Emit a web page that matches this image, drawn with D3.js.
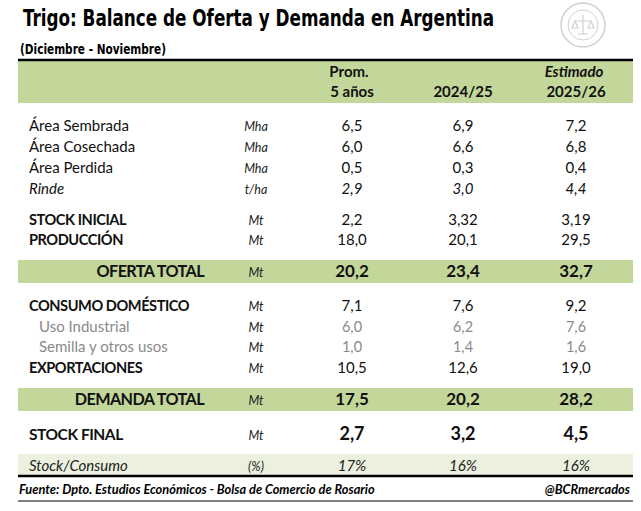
<!DOCTYPE html>
<html>
<head>
<meta charset="utf-8">
<script src="https://cdn.jsdelivr.net/npm/d3@7"></script>
<style>
  body { margin: 0; background: #fff; }
  svg { display: block; }
  .cal { font-family: Lato, "Open Sans", sans-serif; }
  .narrow { font-family: "Liberation Sans Narrow", "DejaVu Sans Condensed", sans-serif; font-stretch: condensed; }
</style>
</head>
<body>
<div id="tabla"></div>
<script>
// datos de la tabla
const rowLabels = [
  "Área Sembrada", "Área Cosechada", "Área Perdida", "Rinde",
  "STOCK INICIAL", "PRODUCCIÓN", "OFERTA TOTAL",
  "CONSUMO DOMÉSTICO", "Uso Industrial", "Semilla y otros usos", "EXPORTACIONES",
  "DEMANDA TOTAL", "STOCK FINAL", "Stock/Consumo"
];
const units = ["Mha", "Mha", "Mha", "t/ha", "Mt", "Mt", "Mt", "Mt", "Mt", "Mt", "Mt", "Mt", "Mt", "(%)"];
const prom5 = [6.5, 6.0, 0.5, 2.9, 2.2, 18.0, 20.2, 7.1, 6.0, 1.0, 10.5, 17.5, 2.7, 17];
const camp2425 = [6.9, 6.6, 0.3, 3.0, 3.32, 20.1, 23.4, 7.6, 6.2, 1.4, 12.6, 20.2, 3.2, 16];
const camp2526 = [7.2, 6.8, 0.4, 4.4, 3.19, 29.5, 32.7, 9.2, 7.6, 1.6, 19.0, 28.2, 4.5, 16];
const columnKeys = ["prom", "c2425", "c2526"];
const headerTop = ["Prom.", "", "Estimado"];
const headerBottom = ["5 años", "2024/25", "2025/26"];

// tipo de fila (define el estilo)
const rowKinds = ["plain", "plain", "plain", "italic", "bold", "bold", "total",
  "bold", "sub", "sub", "bold", "total", "final", "ratio"];

// posiciones verticales (línea base) de cada fila
const rowBase = [131, 152, 173, 194, 225, 245, 277, 311, 332, 352, 373, 405, 440, 471];

const width = 641, height = 511;
const left = 18, right = 633;
const green = "#c4d79b", lightGreen = "#ebf1de";

const svg = d3.select("#tabla").append("svg")
  .attr("width", width).attr("height", height);

const y = d3.scaleOrdinal().domain(rowLabels).range(rowBase);
const x = d3.scaleOrdinal().domain(["unit"].concat(columnKeys)).range([256, 352, 463, 576]);

// título
svg.append("text").attr("class", "narrow")
  .attr("x", 23).attr("y", 26)
  .attr("font-size", 23).attr("font-weight", "bold")
  .attr("textLength", 471).attr("lengthAdjust", "spacingAndGlyphs")
  .text("Trigo: Balance de Oferta y Demanda en Argentina");
svg.append("text").attr("class", "narrow")
  .attr("x", 20).attr("y", 54)
  .attr("font-size", 14.5).attr("font-weight", "bold")
  .attr("textLength", 146).attr("lengthAdjust", "spacingAndGlyphs")
  .text("(Diciembre - Noviembre)");

// logo (sello gris)
const logo = svg.append("g").attr("transform", "translate(583,25)")
  .attr("fill", "none").attr("stroke", "#d0d0d0");
logo.append("circle").attr("r", 22).attr("stroke-width", 1.5);
logo.append("circle").attr("r", 15).attr("stroke-width", 1);
logo.append("path").attr("d", "M0,-10V9M-8,-4H8M-8,-4L-11,3H-5ZM8,-4L5,3H11ZM-5,9H5")
  .attr("stroke-width", 1.2);

// bandas verdes
svg.append("rect").attr("x", left).attr("y", 60).attr("width", right - left).attr("height", 43).attr("fill", green);
[["OFERTA TOTAL", green], ["DEMANDA TOTAL", green], ["Stock/Consumo", lightGreen]].forEach(([lab, col]) => {
  svg.append("rect").attr("x", left).attr("y", y(lab) - 17)
    .attr("width", right - left).attr("height", lab === "Stock/Consumo" ? 21 : 23)
    .attr("fill", col);
});

// líneas
svg.append("line").attr("x1", left).attr("x2", right).attr("y1", 60).attr("y2", 60)
  .attr("stroke", "#000").attr("stroke-width", 2.5);
svg.append("line").attr("x1", left).attr("x2", right).attr("y1", 476).attr("y2", 476)
  .attr("stroke", "#000").attr("stroke-width", 2.5);
svg.append("line").attr("x1", left).attr("x2", right).attr("y1", 501).attr("y2", 501)
  .attr("stroke", "#000").attr("stroke-width", 1.2);

// encabezado
const head = svg.append("g").attr("class", "cal").attr("font-weight", "bold")
  .attr("font-size", 15).attr("text-anchor", "middle").attr("fill", "#111");
head.selectAll(".top").data(columnKeys).join("text")
  .attr("x", (d, i) => x(d) - (i === 0 ? 3 : 2)).attr("y", 77)
  .attr("font-style", (d, i) => i === 2 ? "italic" : null)
  .text((d, i) => headerTop[i]);
head.selectAll(".bot").data(columnKeys).join("text")
  .attr("class", "bot")
  .attr("x", (d, i) => x(d)).attr("y", 97)
  .text((d, i) => headerBottom[i]);

// filas
const esLocale = d3.formatLocale({ decimal: ",", thousands: ".", grouping: [3], currency: ["$", ""] });
function fmt(v, kind) {
  if (kind === "ratio") return v + "%";
  const dec = Math.abs(v * 10 - Math.round(v * 10)) > 1e-6 ? 2 : 1;
  return esLocale.format("." + dec + "f")(v);
}

const rows = rowLabels.map((label, i) => ({
  label, unit: units[i], kind: rowKinds[i],
  vals: [prom5[i], camp2425[i], camp2526[i]]
}));

const labelStyle = {
  plain: { x: 29, size: 15, weight: null, style: null, fill: "#111" },
  italic: { x: 29, size: 15, weight: null, style: "italic", fill: "#111" },
  bold: { x: 29, size: 14.6, weight: "bold", style: null, fill: "#111", ls: -0.45 },
  total: { x: 204, size: 16.2, weight: "bold", style: null, fill: "#111", anchor: "end", ls: -0.6 },
  sub: { x: 39, size: 15, weight: null, style: null, fill: "#8a8a8a" },
  final: { x: 29, size: 15.5, weight: "bold", style: null, fill: "#111", ls: -0.45 },
  ratio: { x: 29, size: 15, weight: null, style: "italic", fill: "#222" }
};
const valueStyle = {
  plain: { size: 15, weight: null, style: null, fill: "#111" },
  italic: { size: 15, weight: null, style: "italic", fill: "#111" },
  bold: { size: 15, weight: null, style: null, fill: "#111" },
  total: { size: 17, weight: "bold", style: null, fill: "#111" },
  sub: { size: 14.5, weight: null, style: null, fill: "#8a8a8a" },
  final: { size: 18, weight: "bold", style: null, fill: "#111" },
  ratio: { size: 15, weight: null, style: "italic", fill: "#222" }
};

const rowG = svg.append("g").attr("class", "cal")
  .selectAll("g").data(rows).join("g")
  .attr("transform", d => `translate(0,${y(d.label)})`);

rowG.append("text")
  .attr("x", d => labelStyle[d.kind].x)
  .attr("text-anchor", d => labelStyle[d.kind].anchor || "start")
  .attr("font-size", d => labelStyle[d.kind].size)
  .attr("font-weight", d => labelStyle[d.kind].weight)
  .attr("font-style", d => labelStyle[d.kind].style)
  .attr("letter-spacing", d => labelStyle[d.kind].ls || null)
  .attr("fill", d => labelStyle[d.kind].fill)
  .text(d => d.label);

rowG.append("text")
  .attr("x", x("unit")).attr("text-anchor", "middle")
  .attr("font-size", 12.5).attr("font-style", "italic").attr("fill", "#222")
  .text(d => d.unit);

rowG.selectAll(".val").data(d => d.vals.map((v, j) => ({ v, j, kind: d.kind })))
  .join("text").attr("class", "val")
  .attr("x", d => x(columnKeys[d.j])).attr("text-anchor", "middle")
  .attr("font-size", d => valueStyle[d.kind].size)
  .attr("font-weight", d => valueStyle[d.kind].weight)
  .attr("font-style", d => valueStyle[d.kind].style)
  .attr("fill", d => valueStyle[d.kind].fill)
  .text(d => fmt(d.v, d.kind));

// pie
svg.append("text").attr("class", "cal")
  .attr("x", 19).attr("y", 494)
  .attr("font-size", 12.8).attr("font-weight", "bold").attr("font-style", "italic")
  .text("Fuente: Dpto. Estudios Económicos - Bolsa de Comercio de Rosario");
svg.append("text").attr("class", "cal")
  .attr("x", 630).attr("y", 494).attr("text-anchor", "end")
  .attr("font-size", 12.8).attr("font-weight", "bold").attr("font-style", "italic")
  .text("@BCRmercados");
</script>
</body>
</html>
